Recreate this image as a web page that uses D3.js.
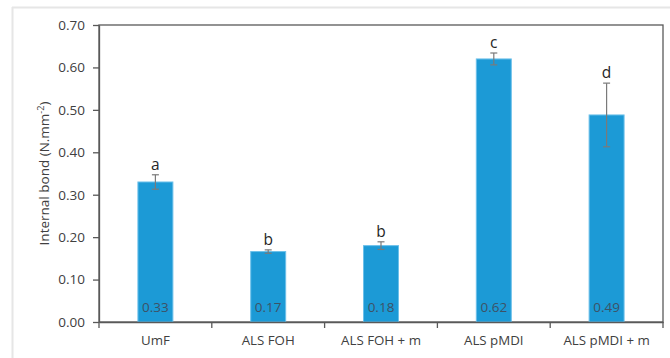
<!DOCTYPE html>
<html><head><meta charset="utf-8">
<script src="https://cdn.jsdelivr.net/npm/d3@7"></script>
<style>body{margin:0;background:#fff}svg{display:block}</style>
</head><body>
<script>
const categories = ["UmF", "ALS FOH", "ALS FOH + m", "ALS pMDI", "ALS pMDI + m"];
const values = [0.33, 0.166, 0.18, 0.62, 0.488];
const errors = [0.017, 0.004, 0.009, 0.014, 0.075];
const letters = ["a", "b", "b", "c", "d"];
const valueLabels = ["0.33", "0.17", "0.18", "0.62", "0.49"];
const yTicks = [0, 0.1, 0.2, 0.3, 0.4, 0.5, 0.6, 0.7];

const W = 670, H = 358;
const m = {left: 99, right: 7, top: 25, bottom: 36};
const svg = d3.select("body").append("svg").attr("width", W).attr("height", H);
const font = "'Open Sans', 'Noto Sans', sans-serif";

// outer frame
svg.append("line").attr("x1", 12).attr("x2", W).attr("y1", 7.5).attr("y2", 7.5).attr("stroke", "#e6e6e6").attr("stroke-width", 2);
svg.append("line").attr("x1", 12.5).attr("x2", 12.5).attr("y1", 7).attr("y2", H).attr("stroke", "#e6e6e6").attr("stroke-width", 2);

const x = d3.scaleBand().domain(categories).range([m.left, W - m.right]).paddingInner(0.69).paddingOuter(0.345);
const y = d3.scaleLinear().domain([0, 0.7]).range([H - m.bottom, m.top]);

// plot box
svg.append("rect").attr("x", m.left).attr("y", m.top).attr("width", W - m.right - m.left).attr("height", H - m.bottom - m.top)
  .attr("fill", "none").attr("stroke", "#595959").attr("stroke-width", 1.3);

// bars
svg.selectAll("rect.bar").data(categories).join("rect").attr("class", "bar")
  .attr("x", d => x(d)).attr("width", x.bandwidth())
  .attr("y", (d, i) => y(values[i])).attr("height", (d, i) => y(0) - y(values[i]))
  .attr("fill", "#1c9ad6").attr("stroke", "#6cc0ea").attr("stroke-width", 1);

// error bars
const eg = svg.append("g").attr("stroke", "#7a7a7a").attr("stroke-width", 1.2);
categories.forEach((c, i) => {
  const cx = x(c) + x.bandwidth() / 2;
  const t = y(values[i] + errors[i]), b = y(values[i] - errors[i]);
  eg.append("line").attr("x1", cx).attr("x2", cx).attr("y1", t).attr("y2", b);
  eg.append("line").attr("x1", cx - 3.5).attr("x2", cx + 3.5).attr("y1", t).attr("y2", t);
  eg.append("line").attr("x1", cx - 3.5).attr("x2", cx + 3.5).attr("y1", b).attr("y2", b);
  svg.append("text").attr("x", cx).attr("y", t - 5).attr("text-anchor", "middle")
    .attr("font-family", font).attr("font-size", 15.5).attr("fill", "#262626").text(letters[i]);
  svg.append("text").attr("x", cx).attr("y", y(0) - 10).attr("text-anchor", "middle")
    .attr("font-family", font).attr("font-size", 13.5).attr("fill", "#3d5266").text(valueLabels[i]);
});

// y axis
const ya = svg.append("g").attr("transform", `translate(${m.left},0)`)
  .call(d3.axisLeft(y).tickValues(yTicks).tickFormat(d3.format(".2f")).tickSize(6).tickSizeOuter(0));
ya.select(".domain").attr("stroke", "#595959").attr("stroke-width", 1.3);
ya.selectAll(".tick line").attr("stroke", "#595959").attr("stroke-width", 1.3);
ya.selectAll("text").attr("font-family", font).attr("font-size", 13.5).attr("fill", "#404040").attr("dx", "-5");

// x axis
const xa = svg.append("g").attr("transform", `translate(0,${y(0)})`)
  .call(d3.axisBottom(x).tickSize(0).tickPadding(14));
xa.select(".domain").attr("stroke", "#595959").attr("stroke-width", 1.3);
xa.selectAll("text").attr("font-family", font).attr("font-size", 13.3).attr("fill", "#404040");
// boundary ticks
const bounds = categories.map(c => x(c) - x.step() * x.paddingInner() / 2).concat([W - m.right]);
xa.selectAll("line.bt").data(bounds).join("line").attr("class", "bt")
  .attr("x1", d => d).attr("x2", d => d).attr("y1", 0).attr("y2", 6)
  .attr("stroke", "#595959").attr("stroke-width", 1.3);

// y label
const yl = svg.append("text").attr("transform", `translate(49,${(m.top + H - m.bottom) / 2}) rotate(-90)`)
  .attr("text-anchor", "middle").attr("font-family", font).attr("font-size", 13.5).attr("fill", "#404040");
yl.append("tspan").text("Internal bond (N.mm");
yl.append("tspan").attr("dy", -5).attr("font-size", 9).text("-2");
yl.append("tspan").attr("dy", 5).text(")");
</script>
</body></html>
